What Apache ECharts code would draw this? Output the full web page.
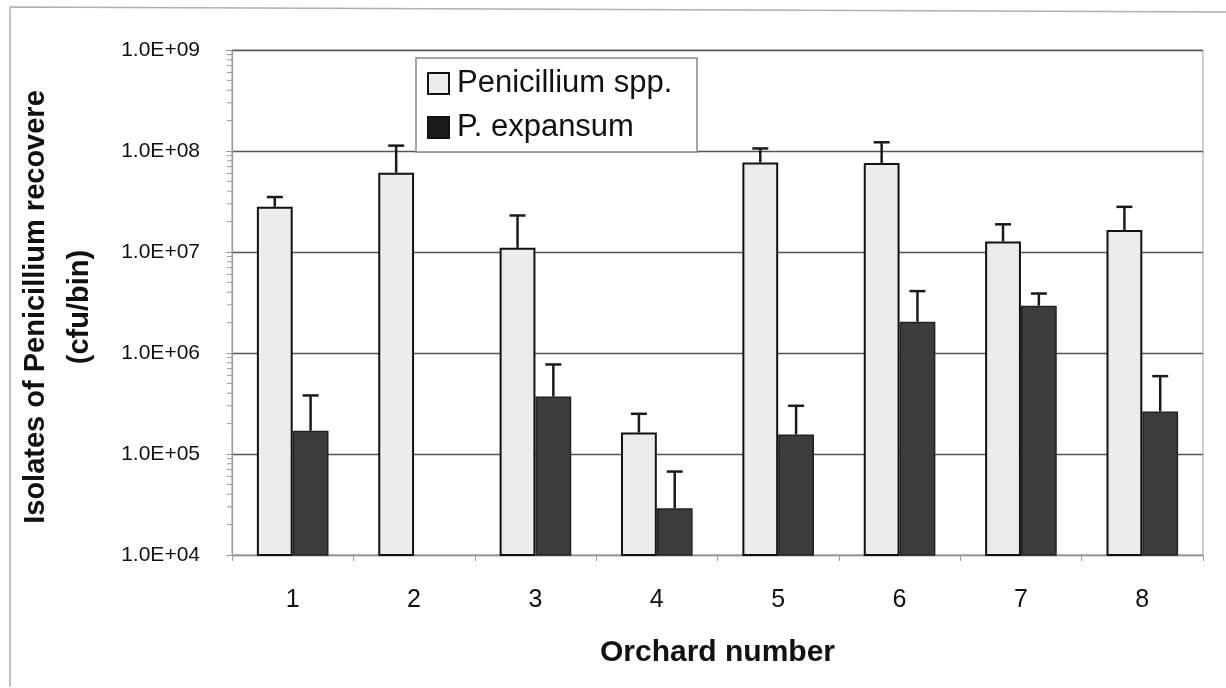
<!DOCTYPE html>
<html>
<head>
<meta charset="utf-8">
<script src="https://cdn.jsdelivr.net/npm/echarts@6/dist/echarts.min.js"></script>
<style>
html,body{margin:0;padding:0;background:#fff;}
#chart{width:1226px;height:688px;}
</style>
</head>
<body>
<div id="chart"></div>
<script>
const categories = ['1', '2', '3', '4', '5', '6', '7', '8'];
const seriesNames = ['Penicillium spp.', 'P. expansum'];
const penicilliumSpp = [2.8e7, 6.1e7, 1.1e7, 1.63e5, 7.7e7, 7.6e7, 1.27e7, 1.65e7];
const penicilliumSppErrTop = [3.5e7, 1.13e8, 2.3e7, 2.5e5, 1.06e8, 1.22e8, 1.88e7, 2.8e7];
const pExpansum = [1.7e5, null, 3.7e5, 2.9e4, 1.56e5, 2.04e6, 2.94e6, 2.64e5];
const pExpansumErrTop = [3.8e5, null, 7.7e5, 6.7e4, 3.0e5, 4.1e6, 3.88e6, 5.9e5];
const yMin = 1e4, yMax = 1e9;
const minorTickValues = [];
for (let d = 4; d < 9; d++) for (let k = 2; k <= 9; k++) minorTickValues.push(k * Math.pow(10, d));

const FONT = 'Arimo, "Liberation Sans", Arial, sans-serif';
const CAT_GAP = 0.41;

function fmt(v) {
  const e = Math.round(Math.log10(v));
  return '1.0E+' + (e < 10 ? '0' + e : e);
}

function errorSeries(name, vals, tops, side) {
  const data = [];
  vals.forEach((v, i) => { if (v != null && tops[i] != null) data.push([i, v, tops[i]]); });
  return {
    type: 'custom', name: name + ' err', z: 5, silent: true,
    data: data,
    encode: { x: 0, y: [1, 2] },
    renderItem: function (params, api) {
      const band = api.size([1, 0])[0];
      const bw = band * (1 - CAT_GAP) / 2;
      const base = api.coord([api.value(0), api.value(1)]);
      const top = api.coord([api.value(0), api.value(2)]);
      const x = base[0] + side * bw / 2;
      const cap = 8;
      const st = { stroke: '#1a1a1a', lineWidth: 2.5 };
      return {
        type: 'group',
        children: [
          { type: 'line', shape: { x1: x, y1: base[1], x2: x, y2: top[1] }, style: st },
          { type: 'line', shape: { x1: x - cap, y1: top[1], x2: x + cap, y2: top[1] }, style: st }
        ]
      };
    }
  };
}

const chart = echarts.init(document.getElementById('chart'), null, { renderer: 'canvas' });
chart.setOption({
  animation: false,
  backgroundColor: '#fff',
  grid: { left: 232, right: 23, top: 50, bottom: 133, show: true, borderColor: '#a0a0a0', borderWidth: 1 },
  legend: {
    z: 100,
    orient: 'vertical', left: 416, top: 58,
    padding: [10, 10, 10, 11],
    itemGap: 13,
    itemWidth: 21, itemHeight: 21,
    textStyle: { fontFamily: FONT, fontSize: 31, color: '#111', padding: [0, 0, 0, 3] },
    data: [
      { name: seriesNames[0], icon: 'rect', itemStyle: { color: '#ececec', borderColor: '#111', borderWidth: 2 } },
      { name: seriesNames[1], icon: 'rect', itemStyle: { color: '#1a1a1a', borderColor: '#111', borderWidth: 2 } }
    ]
  },
  xAxis: {
    type: 'category', data: categories,
    axisLine: { lineStyle: { color: '#999', width: 1.2 } },
    axisTick: { show: true, length: 6, lineStyle: { color: '#999' } },
    axisLabel: { fontFamily: FONT, fontSize: 25, color: '#111', margin: 33 },
    name: 'Orchard number', nameLocation: 'middle', nameGap: 83,
    nameTextStyle: { fontFamily: FONT, fontSize: 30, fontWeight: 'bold', color: '#111' }
  },
  yAxis: {
    type: 'log', logBase: 10, min: yMin, max: yMax,
    axisLine: { show: true, lineStyle: { color: '#999', width: 1.2 } },
    axisTick: { show: true, length: 6, lineStyle: { color: '#999' } },
    axisLabel: { fontFamily: FONT, fontSize: 21, color: '#111', margin: 32, formatter: fmt },
    splitLine: { show: true, lineStyle: { color: '#555', width: 1.3 } }
  },
  graphic: [
    { type: 'polyline', z: 0, shape: { points: [[10, 687], [10, 7], [1226, 12]] }, style: { fill: 'none', stroke: '#b0b0b0', lineWidth: 1.5 } },
    { type: 'rect', z: 1, shape: { x: 416, y: 58, width: 281, height: 94 }, style: { fill: '#fff', stroke: '#888', lineWidth: 1.5 } },
    { type: 'text', x: 36, y: 307, rotation: Math.PI / 2,
      style: { text: 'Isolates of Penicillium recovere', font: 'bold 29px ' + FONT, fill: '#111', align: 'center', verticalAlign: 'middle' } },
    { type: 'text', x: 80, y: 307, rotation: Math.PI / 2,
      style: { text: '(cfu/bin)', font: 'bold 29px ' + FONT, fill: '#111', align: 'center', verticalAlign: 'middle' } }
  ],
  series: [
    {
      type: 'bar', name: seriesNames[0], data: penicilliumSpp,
      barGap: '0%', barCategoryGap: (CAT_GAP * 100) + '%',
      itemStyle: { color: '#ececec', borderColor: '#111', borderWidth: 2 }
    },
    {
      type: 'bar', name: seriesNames[1], data: pExpansum,
      itemStyle: { color: '#3c3c3c', borderColor: '#222', borderWidth: 1.5 }
    },
    errorSeries(seriesNames[0], penicilliumSpp, penicilliumSppErrTop, -1),
    errorSeries(seriesNames[1], pExpansum, pExpansumErrTop, 1),
    {
      type: 'custom', name: 'minor ticks', silent: true, z: 4,
      data: minorTickValues.map(v => [0, v]),
      encode: { x: 0, y: 1 },
      renderItem: function (params, api) {
        const band = api.size([1, 0])[0];
        const p = api.coord([0, api.value(1)]);
        const x0 = p[0] - band / 2;
        return { type: 'line', shape: { x1: x0 - 5, y1: p[1], x2: x0, y2: p[1] }, style: { stroke: '#999', lineWidth: 1 } };
      }
    }
  ]
});
</script>
</body>
</html>
